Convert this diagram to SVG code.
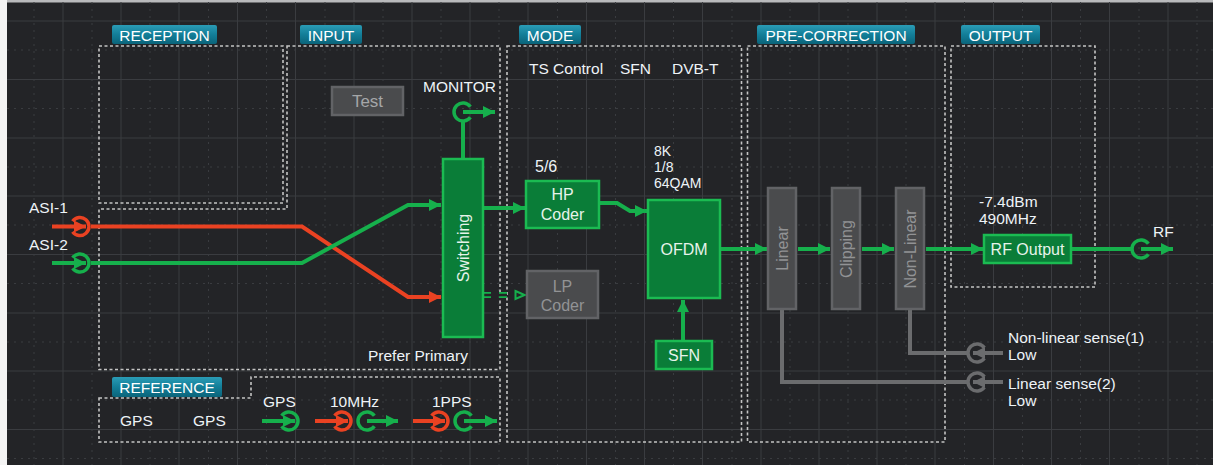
<svg xmlns="http://www.w3.org/2000/svg" width="1213" height="465" viewBox="0 0 1213 465">
<defs>
<linearGradient id="tabg" x1="0" y1="0" x2="0" y2="1">
<stop offset="0" stop-color="#2a9cb6"/>
<stop offset="0.5" stop-color="#137e98"/>
<stop offset="1" stop-color="#0a647a"/>
</linearGradient>
<marker id="ag" viewBox="0 0 12 12" refX="12" refY="6" markerWidth="12" markerHeight="12" markerUnits="userSpaceOnUse" orient="auto"><path d="M0,0 L12,6 L0,12 z" fill="#16b04c"/></marker>
<marker id="ar" viewBox="0 0 12 12" refX="12" refY="6" markerWidth="12" markerHeight="12" markerUnits="userSpaceOnUse" orient="auto"><path d="M0,0 L12,6 L0,12 z" fill="#ea4222"/></marker>
<marker id="ak" viewBox="0 0 12 12" refX="12" refY="6" markerWidth="12" markerHeight="12" markerUnits="userSpaceOnUse" orient="auto"><path d="M0,0 L12,6 L0,12 z" fill="#6b6c6e"/></marker>
<marker id="ah" viewBox="0 0 12 12" refX="11" refY="6" markerWidth="12" markerHeight="12" markerUnits="userSpaceOnUse" orient="auto"><path d="M1.5,2 L10.5,6 L1.5,10 z" fill="none" stroke="#16b04c" stroke-width="2"/></marker>
</defs>
<style>
.gs{stroke:#3a3c40;stroke-width:1;fill:none}
.gd{stroke:#3a3c40;stroke-width:1;fill:none;stroke-dasharray:2 5}
.panel{fill:none;stroke:#c4c4c4;stroke-width:1.6;stroke-dasharray:3 2.5}
.tab{fill:url(#tabg)}
.tabt{font-family:"Liberation Sans",Arial,sans-serif;font-size:15.5px;fill:#ffffff;text-anchor:middle}
.lbl{font-family:"Liberation Sans",Arial,sans-serif;font-size:15.5px;fill:#eef3f7}
.gbox{fill:#0a7d38;stroke:#1bbb52;stroke-width:2.5}
.kbox{fill:#4a4b4d;stroke:#626366;stroke-width:2.5}
.gt{font-family:"Liberation Sans",Arial,sans-serif;font-size:16px;fill:#e6f3ea;text-anchor:middle}
.kt{font-family:"Liberation Sans",Arial,sans-serif;font-size:16px;fill:#929395;text-anchor:middle}
.wg{stroke:#16b04c;stroke-width:4;fill:none}
.wr{stroke:#ea4222;stroke-width:4;fill:none}
.wk{stroke:#6b6c6e;stroke-width:4;fill:none}
.cg{stroke:#16b04c;stroke-width:3.5;fill:none}
.cr{stroke:#ea4222;stroke-width:3.5;fill:none}
.ck{stroke:#6b6c6e;stroke-width:3.5;fill:none}
</style>
<rect x="0" y="0" width="1213" height="465" fill="#232427"/>
<rect x="0" y="0" width="7" height="465" fill="#f4f4f4"/>
<rect x="7" y="0" width="1206" height="2.5" fill="#b9babc"/>
<g id="grid">
<path class="gd" d="M34,2V465M92,2V465M150,2V465M208.5,2V465M266.5,2V465M325,2V465M383,2V465M441,2V465M499,2V465M557.5,2V465M615.5,2V465M673.5,2V465M732,2V465M790,2V465M848,2V465M906,2V465M964.5,2V465M1022.5,2V465M1080.5,2V465M1139,2V465M1197,2V465"/>
<path class="gd" d="M7,50H1213M7,108.5H1213M7,167H1213M7,225H1213M7,283.5H1213M7,342H1213M7,400H1213M7,458.5H1213"/>
<path class="gs" d="M63,2V465M121,2V465M179,2V465M237.5,2V465M295.5,2V465M354,2V465M412,2V465M470,2V465M528,2V465M586.5,2V465M644.5,2V465M702.5,2V465M761,2V465M819,2V465M877,2V465M935,2V465M993.5,2V465M1051.5,2V465M1109.5,2V465M1168,2V465"/>
<path class="gs" d="M7,21H1213M7,79.5H1213M7,138H1213M7,196H1213M7,254.5H1213M7,313H1213M7,371H1213M7,429.5H1213"/>
</g>
<g id="panels">
<rect class="panel" x="99" y="46" width="184" height="157"/>
<path class="panel" d="M287,46H500V369.5H99V209H287Z"/>
<path class="panel" d="M99,398H251V377H500V442H99Z"/>
<rect class="panel" x="507" y="46" width="234.5" height="396"/>
<rect class="panel" x="747.5" y="46" width="197.5" height="396"/>
<rect class="panel" x="951" y="46" width="144" height="241"/>
</g>
<g id="tabs">
<rect class="tab" x="112" y="25" width="105" height="19" rx="2"/><text class="tabt" x="164.5" y="40.5">RECEPTION</text>
<rect class="tab" x="300" y="25" width="62" height="19" rx="2"/><text class="tabt" x="331" y="40.5">INPUT</text>
<rect class="tab" x="519" y="25" width="62" height="19" rx="2"/><text class="tabt" x="550" y="40.5">MODE</text>
<rect class="tab" x="757" y="25" width="158" height="19" rx="2"/><text class="tabt" x="836" y="40.5">PRE-CORRECTION</text>
<rect class="tab" x="961" y="25" width="79" height="19" rx="2"/><text class="tabt" x="1000.5" y="40.5">OUTPUT</text>
<rect class="tab" x="112" y="377" width="110" height="20" rx="2"/><text class="tabt" x="167" y="393">REFERENCE</text>
</g>
<g id="connectors">
<path class="wr" d="M91,226.5H302L408,297H441" marker-end="url(#ar)"/>
<path class="wg" d="M91,263H302L408,205H441" marker-end="url(#ag)"/>
<path class="wg" d="M463,121V159"/>
<path class="wg" d="M483,208H525" marker-end="url(#ag)"/>
<path d="M483,295H514" stroke="#16b04c" stroke-width="6" stroke-dasharray="8 8" fill="none"/>
<path d="M483,295H514" stroke="#232427" stroke-width="2.5" stroke-dasharray="8 8" fill="none"/>
<path d="M514,295H525" stroke="none" fill="none" marker-end="url(#ah)"/>
<path class="wg" d="M600,203H617L630,211H647" marker-end="url(#ag)"/>
<path class="wg" d="M683,341V300" marker-end="url(#ag)"/>
<path class="wg" d="M721,249H767" marker-end="url(#ag)"/>
<path class="wg" d="M798,249H830" marker-end="url(#ag)"/>
<path class="wg" d="M862,249H894" marker-end="url(#ag)"/>
<path class="wg" d="M926,249H983" marker-end="url(#ag)"/>
<path class="wg" d="M1072,249H1132"/>
<path class="wk" d="M782,310V382H967"/>
<path class="wk" d="M910,310V353H967"/>
</g>
<g id="asi1">
<text class="lbl" x="29" y="213">ASI-1</text>
<path class="cr" d="M72.63,221.34A9,9 0 1,1 72.63,231.66"/>
<path class="wr" d="M52,226.5H86" marker-end="url(#ar)"/>
</g>
<g id="asi2">
<text class="lbl" x="29" y="250">ASI-2</text>
<path class="cg" d="M72.63,257.84A9,9 0 1,1 72.63,268.16"/>
<path class="wg" d="M52,263H86" marker-end="url(#ag)"/>
</g>
<g id="test">
<rect class="kbox" x="332" y="87" width="71" height="28"/>
<text class="kt" x="367.5" y="107" style="font-size:17px;fill:#a5a6a8">Test</text>
</g>
<g id="monitor">
<text class="lbl" x="423" y="92">MONITOR</text>
<path class="cg" d="M470.37,117.16A9,9 0 1,1 470.37,106.84"/>
<path class="wg" d="M463,112H495" marker-end="url(#ag)"/>
</g>
<g id="switching">
<rect class="gbox" x="443" y="159" width="40" height="178"/>
<text class="gt" transform="translate(468.5,248) rotate(-90)" x="0" y="0">Switching</text>
</g>
<text class="lbl" x="368" y="361">Prefer Primary</text>
<g id="mode-labels">
<text class="lbl" x="529" y="74">TS Control</text>
<text class="lbl" x="620" y="74">SFN</text>
<text class="lbl" x="672" y="74">DVB-T</text>
<text class="lbl" x="535" y="172" style="font-size:16px">5/6</text>
<text class="lbl" x="654" y="156" style="font-size:14px">8K</text>
<text class="lbl" x="654" y="172" style="font-size:14px">1/8</text>
<text class="lbl" x="654" y="188" style="font-size:14px">64QAM</text>
</g>
<g id="hp-coder">
<rect class="gbox" x="526" y="181" width="73" height="47"/>
<text class="gt" x="562.5" y="200">HP</text>
<text class="gt" x="562.5" y="220">Coder</text>
</g>
<g id="lp-coder">
<rect class="kbox" x="527" y="271" width="71" height="47"/>
<text class="kt" x="562.5" y="292">LP</text>
<text class="kt" x="562.5" y="311">Coder</text>
</g>
<g id="ofdm">
<rect class="gbox" x="648" y="200" width="72" height="98"/>
<text class="gt" x="684" y="255">OFDM</text>
</g>
<g id="sfn">
<rect class="gbox" x="656" y="341" width="56" height="28"/>
<text class="gt" x="684" y="361">SFN</text>
</g>
<g id="linear">
<rect class="kbox" x="768" y="188" width="28" height="121"/>
<text class="kt" transform="translate(787.5,248.5) rotate(-90)" x="0" y="0">Linear</text>
</g>
<g id="clipping">
<rect class="kbox" x="832" y="188" width="28" height="121"/>
<text class="kt" transform="translate(851.5,249) rotate(-90)" x="0" y="0">Clipping</text>
</g>
<g id="nonlinear">
<rect class="kbox" x="896" y="188" width="28" height="121"/>
<text class="kt" transform="translate(915.5,249) rotate(-90)" x="0" y="0">Non-Linear</text>
</g>
<g id="rf-output">
<text class="lbl" x="979" y="207">-7.4dBm</text>
<text class="lbl" x="979" y="224">490MHz</text>
<rect class="gbox" x="984" y="235" width="87" height="28"/>
<text class="gt" x="1027.5" y="255">RF Output</text>
</g>
<g id="rf">
<text class="lbl" x="1153" y="237">RF</text>
<path class="cg" d="M1148.37,254.16A9,9 0 1,1 1148.37,243.84"/>
<path class="wg" d="M1141,249H1173" marker-end="url(#ag)"/>
</g>
<g id="sense1">
<path class="ck" d="M984.37,358.16A9,9 0 1,1 984.37,347.84"/>
<path class="wk" d="M1003,353H973" marker-end="url(#ak)"/>
<text class="lbl" x="1008" y="343">Non-linear sense(1)</text>
<text class="lbl" x="1008" y="360">Low</text>
</g>
<g id="sense2">
<path class="ck" d="M984.37,387.16A9,9 0 1,1 984.37,376.84"/>
<path class="wk" d="M1003,382H973" marker-end="url(#ak)"/>
<text class="lbl" x="1008" y="389">Linear sense(2)</text>
<text class="lbl" x="1008" y="406">Low</text>
</g>
<g id="reference">
<text class="lbl" x="120" y="426">GPS</text>
<text class="lbl" x="193" y="426">GPS</text>
<text class="lbl" x="263" y="407">GPS</text>
<path class="cg" d="M281.63,415.84A9,9 0 1,1 281.63,426.16"/>
<path class="wg" d="M262,421H295" marker-end="url(#ag)"/>
<text class="lbl" x="330" y="407">10MHz</text>
<path class="cr" d="M334.63,415.84A9,9 0 1,1 334.63,426.16"/>
<path class="wr" d="M315,421H348" marker-end="url(#ar)"/>
<path class="cg" d="M374.37,426.16A9,9 0 1,1 374.37,415.84"/>
<path class="wg" d="M367,421H398" marker-end="url(#ag)"/>
<text class="lbl" x="432" y="407">1PPS</text>
<path class="cr" d="M431.63,415.84A9,9 0 1,1 431.63,426.16"/>
<path class="wr" d="M413,421H445" marker-end="url(#ar)"/>
<path class="cg" d="M471.37,426.16A9,9 0 1,1 471.37,415.84"/>
<path class="wg" d="M464,421H497" marker-end="url(#ag)"/>
</g>
</svg>
